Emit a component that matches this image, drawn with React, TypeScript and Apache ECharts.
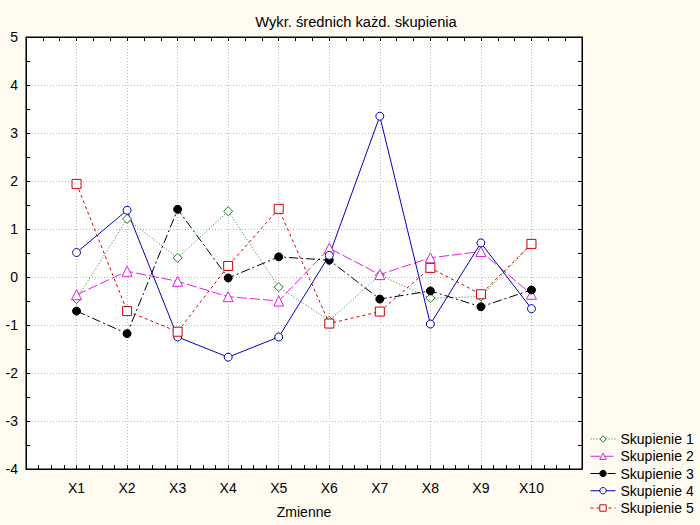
import React, { useEffect, useRef } from "react";
import * as echarts from "echarts";

const categories = ["X1", "X2", "X3", "X4", "X5", "X6", "X7", "X8", "X9", "X10"];
const seriesNames = ["Skupienie 1", "Skupienie 2", "Skupienie 3", "Skupienie 4", "Skupienie 5"];
const skupienie1 = [-0.46, 1.21, 0.4, 1.37, -0.21, -0.91, 0.04, -0.44, -0.41, 0.68];
const skupienie2 = [-0.37, 0.12, -0.09, -0.41, -0.5, 0.6, 0.05, 0.4, 0.53, -0.36];
const skupienie3 = [-0.71, -1.18, 1.41, -0.02, 0.42, 0.35, -0.46, -0.29, -0.62, -0.27];
const skupienie4 = [0.51, 1.39, -1.25, -1.67, -1.25, 0.45, 3.35, -0.98, 0.71, -0.66];
const skupienie5 = [1.94, -0.71, -1.14, 0.23, 1.42, -0.97, -0.72, 0.19, -0.36, 0.69];
const yTicks = [-4, -3, -2, -1, 0, 1, 2, 3, 4, 5];

const FONT = "Liberation Sans";

export default function App() {
  const ref = useRef<HTMLDivElement>(null);
  useEffect(() => {
    if (!ref.current) return;
    const chart = echarts.init(ref.current, undefined, { renderer: "svg" });
    const toPts = (arr: number[]) => arr.map((v, i) => [i + 1, v]);
    const defs = [
      { data: skupienie1, color: "#208020", dash: [1, 2], symbol: "diamond", size: 9, fill: "#ffffff" },
      { data: skupienie2, color: "#e020e0", dash: [10, 3], symbol: "triangle", size: 10, fill: "#ffffff" },
      { data: skupienie3, color: "#000000", dash: [9, 3, 2, 3], symbol: "circle", size: 8, fill: "#000000" },
      { data: skupienie4, color: "#0000c0", dash: "solid", symbol: "circle", size: 8, fill: "#ffffff" },
      { data: skupienie5, color: "#d00000", dash: [3, 3], symbol: "rect", size: 9, fill: "#ffffff" },
    ];
    const tickStyle = { show: true, inside: true, length: 4, lineStyle: { color: "#000" } };
    const minorStyle = { show: true, length: 4, lineStyle: { color: "#000" } };
    const axisLine = { show: true, onZero: false, lineStyle: { color: "#000" } };
    chart.setOption({
      animation: false,
      backgroundColor: "#fffbf0",
      textStyle: { fontFamily: FONT },
      title: {
        text: "Wykr. średnich każd. skupienia",
        left: 351,
        top: 9,
        textAlign: "center",
        textStyle: { fontFamily: FONT, fontSize: 14.7, fontWeight: "normal", color: "#000" },
      },
      legend: {
        orient: "vertical",
        left: 590,
        top: 432,
        padding: 0,
        itemGap: 3.25,
        itemWidth: 25,
        itemHeight: 8,
        data: seriesNames,
        lineStyle: { width: 1 },
        itemStyle: { borderWidth: 1 },
        textStyle: { fontFamily: FONT, fontSize: 14, lineHeight: 14, color: "#000" },
      },
      grid: {
        left: 26,
        top: 37,
        width: 556,
        height: 432,
        show: true,
        backgroundColor: "#ffffff",
        borderColor: "#000",
        borderWidth: 1,
      },
      xAxis: [
        {
          type: "value",
          min: 0,
          max: 11,
          interval: 1,
          position: "bottom",
          name: "Zmienne",
          nameLocation: "middle",
          nameGap: 36,
          nameTextStyle: { fontFamily: FONT, fontSize: 14, color: "#000" },
          axisLine,
          axisTick: tickStyle,
          minorTick: { ...minorStyle, splitNumber: 4 },
          axisLabel: {
            fontFamily: FONT,
            fontSize: 14,
            color: "#000",
            margin: 12,
            formatter: (v: number) => (v >= 1 && v <= categories.length ? categories[v - 1] : ""),
          },
          splitLine: { show: true, lineStyle: { color: "#b8b8b8", type: [1, 2] } },
        },
        {
          type: "value",
          min: 0,
          max: 11,
          interval: 1,
          position: "top",
          axisLine,
          axisTick: tickStyle,
          minorTick: { ...minorStyle, splitNumber: 3 },
          axisLabel: { show: false },
          splitLine: { show: false },
        },
      ],
      yAxis: [
        {
          type: "value",
          min: yTicks[0],
          max: yTicks[yTicks.length - 1],
          interval: 1,
          position: "left",
          axisLine,
          axisTick: tickStyle,
          minorTick: { ...minorStyle, splitNumber: 2 },
          axisLabel: { fontFamily: FONT, fontSize: 14, color: "#000", margin: 8 },
          splitLine: { show: true, lineStyle: { color: "#b8b8b8", type: [1, 2] } },
        },
        {
          type: "value",
          min: yTicks[0],
          max: yTicks[yTicks.length - 1],
          interval: 1,
          position: "right",
          axisLine,
          axisTick: tickStyle,
          minorTick: { ...minorStyle, splitNumber: 2 },
          axisLabel: { show: false },
          splitLine: { show: false },
        },
      ],
      series: defs.map((d, i) => ({
        name: seriesNames[i],
        type: "line",
        xAxisIndex: 0,
        yAxisIndex: 0,
        data: toPts(d.data),
        symbol: d.symbol,
        symbolSize: d.size,
        showSymbol: true,
        itemStyle: { color: d.fill, borderColor: d.color, borderWidth: 1 },
        lineStyle: { color: d.color, width: 1, type: d.dash },
        emphasis: { disabled: true },
      })),
    });
    return () => chart.dispose();
  }, []);
  return (
    <div
      ref={ref}
      style={{ position: "absolute", left: 0, top: 0, width: 700, height: 525 }}
    />
  );
}
